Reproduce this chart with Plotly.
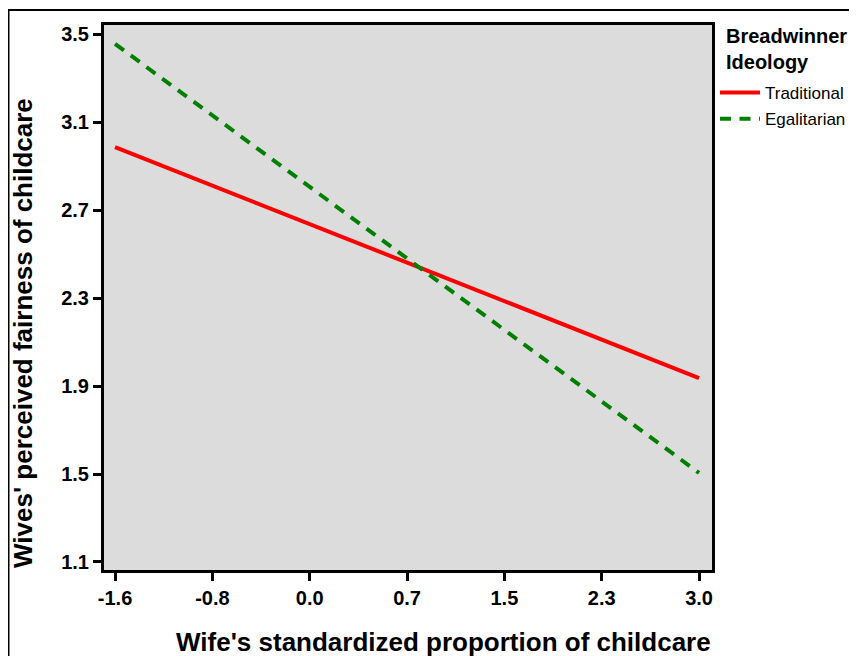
import plotly.graph_objects as go

x_vals = [-1.6, 3.0]
traditional = [2.986, 1.936]
egalitarian = [3.455, 1.505]
x_tickvals = [-1.6, -0.8333, -0.0667, 0.7, 1.4667, 2.2333, 3.0]
x_ticktext = ["-1.6", "-0.8", "0.0", "0.7", "1.5", "2.3", "3.0"]
y_tickvals = [1.1, 1.5, 1.9, 2.3, 2.7, 3.1, 3.5]
y_ticktext = ["1.1", "1.5", "1.9", "2.3", "2.7", "3.1", "3.5"]
x_title = "Wife's standardized proportion of childcare"
y_title = "Wives' perceived fairness of childcare"
legend_title = "Breadwinner<br>Ideology"

FONT = "Arial, Liberation Sans, sans-serif"

W, H = 849, 648
L, R, T, B = 96, 145, 17, 86
PW, PH = W - L - R, H - T - B

fig = go.Figure()
fig.add_trace(go.Scatter(x=x_vals, y=traditional, mode="lines", name="Traditional",
                         legendgroup="a",
                         line=dict(color="#ff0000", width=4)))
fig.add_trace(go.Scatter(x=x_vals, y=egalitarian, mode="lines", name="Egalitarian",
                         legendgroup="b",
                         line=dict(color="#008000", width=4, dash="11px,8.5px")))

fig.update_layout(
    width=W, height=H,
    margin=dict(l=L, r=R, t=T, b=B, autoexpand=False),
    paper_bgcolor="white",
    plot_bgcolor="#dcdcdc",
    font=dict(family=FONT, color="black"),
    showlegend=True,
    legend=dict(
        font=dict(size=17, family=FONT),
        x=1 + 3 / PW, xanchor="left", y=((H - B) - 67) / PH, yanchor="top",
        bgcolor="rgba(0,0,0,0)", borderwidth=0,
        itemwidth=40, tracegroupgap=1,
    ),
    xaxis=dict(
        range=[-1.687, 3.102], tickvals=x_tickvals, ticktext=x_ticktext,
        showgrid=False, zeroline=False, showline=True, linecolor="black", linewidth=3,
        mirror=True, ticks="outside", ticklen=8, tickwidth=3, tickcolor="black",
        tickfont=dict(size=20, family=FONT, weight="bold"),
    ),
    yaxis=dict(
        range=[1.0636, 3.541], tickvals=y_tickvals, ticktext=y_ticktext,
        showgrid=False, zeroline=False, showline=True, linecolor="black", linewidth=3,
        mirror=True, ticks="outside", ticklen=8, tickwidth=3, tickcolor="black",
        tickfont=dict(size=20, family=FONT, weight="bold"),
    ),
)

fig.add_annotation(text="<b>" + x_title + "</b>", xref="paper", yref="paper",
                   x=(435 - L) / PW, y=((H - B) - 634) / PH,
                   xanchor="center", yanchor="middle", showarrow=False,
                   font=dict(size=26, family=FONT, color="black"))
fig.add_annotation(text="<b>" + y_title + "</b>", xref="paper", yref="paper",
                   x=(15 - L) / PW, y=((H - B) - 325) / PH, textangle=-90,
                   xanchor="center", yanchor="middle", showarrow=False,
                   font=dict(size=26, family=FONT, color="black"))
fig.add_annotation(text="<b>" + legend_title + "</b>", xref="paper", yref="paper",
                   x=(716 - L) / PW, y=((H - B) - 41) / PH, align="left",
                   xanchor="left", yanchor="middle", showarrow=False,
                   font=dict(size=20, family=FONT, color="black"))

# outer frame of the figure
fig.add_shape(type="rect", xref="paper", yref="paper",
              x0=(0.5 - L) / PW, x1=1.3, y0=-0.3, y1=1 + (T - 2) / PH,
              line=dict(color="black", width=2), fillcolor="rgba(0,0,0,0)", layer="below")

fig.write_html("out.html")
